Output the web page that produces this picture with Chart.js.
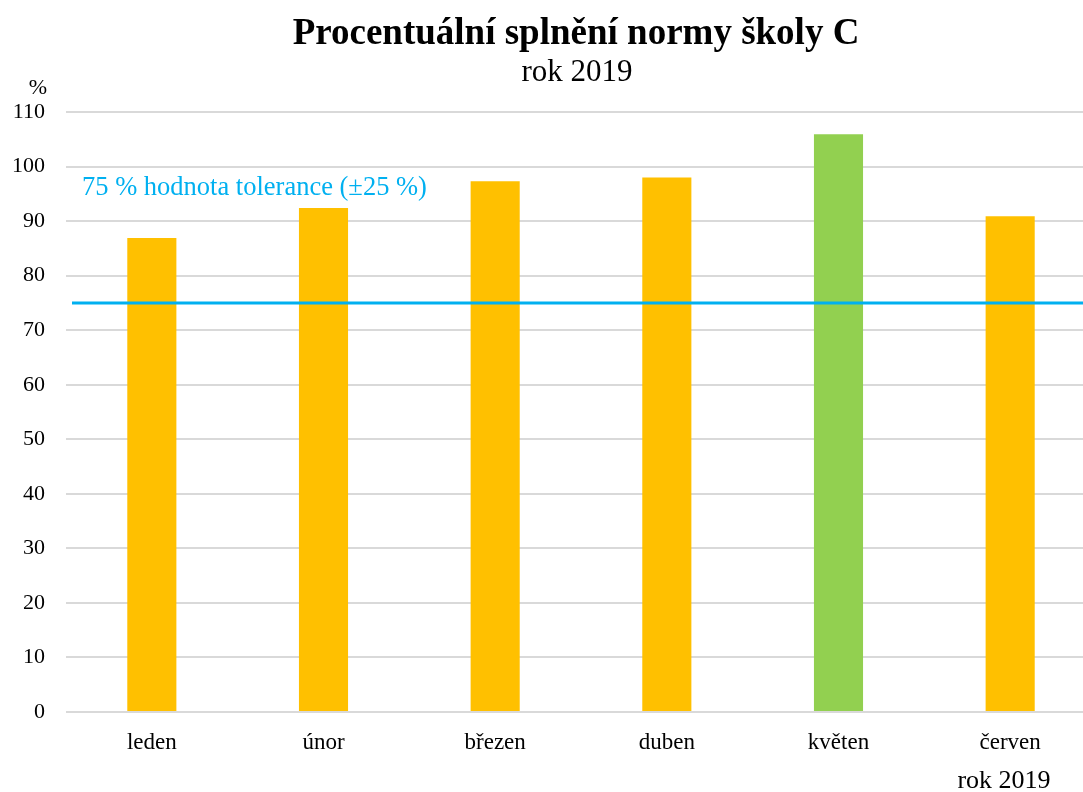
<!DOCTYPE html>
<html>
<head>
<meta charset="utf-8">
<script src="https://cdn.jsdelivr.net/npm/chart.js@4"></script>
<style>
html,body{margin:0;padding:0;background:#fff;overflow:hidden;}
#wrap{width:1083px;height:792px;overflow:hidden;position:relative;}
#c{position:absolute;left:0;top:0;}
</style>
</head>
<body>
<div id="wrap"><canvas id="c" width="1152" height="792" style="width:1152px;height:792px"></canvas></div>
<script>
const categories = ['leden','únor','březen','duben','květen','červen'];
const values = [86.9, 92.4, 97.3, 98.0, 105.9, 90.9];
const barColors = ['#FFC000','#FFC000','#FFC000','#FFC000','#92D050','#FFC000'];
const thresholdValue = [75];
const yTicks = [0,10,20,30,40,50,60,70,80,90,100,110];
const titleText = 'Procentuální splnění normy školy C';
const subtitleText = 'rok 2019';
const xAxisTitle = 'rok 2019';
const yAxisTitle = '%';
const thresholdLabel = '75 % hodnota tolerance (±25 %)';

const serif = '"Liberation Serif","Times New Roman",serif';

const textPlugin = {
  id: 'texts',
  afterDraw(chart) {
    const ctx = chart.ctx;
    const y = chart.scales.y;
    const area = chart.chartArea;
    ctx.save();
    // threshold line
    const ty = y.getPixelForValue(thresholdValue[0]);
    ctx.strokeStyle = '#00B0F0';
    ctx.lineWidth = 3;
    ctx.beginPath();
    ctx.moveTo(area.left + 6, ty);
    ctx.lineTo(area.right, ty);
    ctx.stroke();
    // threshold label
    ctx.fillStyle = '#00B0F0';
    ctx.font = '26.5px ' + serif;
    ctx.textAlign = 'left';
    ctx.textBaseline = 'alphabetic';
    ctx.fillText(thresholdLabel, 82, 195);
    // title
    ctx.fillStyle = '#000';
    ctx.textAlign = 'center';
    ctx.font = 'bold 37px ' + serif;
    ctx.fillText(titleText, 576, 44);
    ctx.font = '31px ' + serif;
    ctx.fillText(subtitleText, 577, 81);
    // y title
    ctx.font = '22px ' + serif;
    ctx.fillText(yAxisTitle, 38, 94);
    // x title
    ctx.font = '26px ' + serif;
    ctx.fillText(xAxisTitle, 1004, 788);
    ctx.restore();
  }
};

new Chart(document.getElementById('c'), {
  type: 'bar',
  data: {
    labels: categories,
    datasets: [{
      data: values,
      backgroundColor: barColors,
      borderWidth: 0,
      barPercentage: 0.286,
      categoryPercentage: 1.0
    }]
  },
  options: {
    responsive: false,
    animation: false,
    layout: { padding: { top: 112, right: 56, bottom: 0, left: 0 } },
    plugins: { legend: { display: false }, tooltip: { enabled: false }, title: { display: false } },
    scales: {
      x: {
        afterFit(s) { s.height = 80; },
        grid: { display: false, drawTicks: false },
        border: { display: false },
        ticks: { color: '#000', padding: 17, font: { family: serif, size: 23 } }
      },
      y: {
        min: 0, max: 110,
        afterFit(s) { s.width = 66; },
        afterBuildTicks(s) { s.ticks = yTicks.map(v => ({ value: v })); },
        grid: { color: '#D9D9D9', lineWidth: 2, drawTicks: false },
        border: { display: false },
        ticks: { color: '#000', padding: 21, font: { family: serif, size: 22 } }
      }
    }
  },
  plugins: [textPlugin]
});
</script>
</body>
</html>
